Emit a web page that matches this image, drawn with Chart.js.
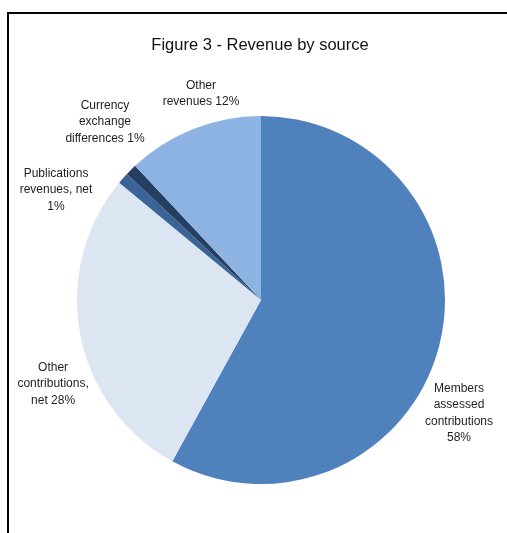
<!DOCTYPE html>
<html>
<head>
<meta charset="utf-8">
<script src="https://cdn.jsdelivr.net/npm/chart.js@4"></script>
<style>
  html, body { margin: 0; padding: 0; background: #fff; }
  #wrap { position: relative; width: 507px; height: 533px; }
  #frame { position: absolute; left: 7px; top: 12px; width: 500px; height: 521px;
           border-top: 2px solid #000; border-left: 2px solid #000; box-sizing: border-box; }
  canvas { position: absolute; left: 0; top: 0; }
</style>
</head>
<body>
<div id="wrap">
  <div id="frame"></div>
  <canvas id="c" width="507" height="533"></canvas>
</div>
<script>
const titleText = "Figure 3 - Revenue by source";
const categories = [
  "Members assessed contributions",
  "Other contributions, net",
  "Publications revenues, net",
  "Currency exchange differences",
  "Other revenues"
];
const values = [58, 28, 1, 1, 12];
const labelLines = [
  ["Members", "assessed", "contributions", "58%"],
  ["Other", "contributions,", "net 28%"],
  ["Publications", "revenues, net", "1%"],
  ["Currency", "exchange", "differences 1%"],
  ["Other", "revenues 12%"]
];
const colors = ["#4F81BD", "#DCE6F2", "#3A6498", "#243F62", "#8DB3E2"];
// label block centres, in units of the pie radius, relative to pie centre
const labelPos = [
  [1.076, 0.614],
  [-1.130, 0.457],
  [-1.114, -0.598],
  [-0.848, -0.967],
  [-0.326, -1.120]
];

const labelPlugin = {
  id: 'outsideLabels',
  afterDatasetsDraw(chart) {
    const ctx = chart.ctx;
    const meta = chart.getDatasetMeta(0);
    ctx.save();
    ctx.fillStyle = '#1e1e1e';
    ctx.font = '12px "Liberation Sans", Arial, sans-serif';
    ctx.textAlign = 'center';
    ctx.textBaseline = 'middle';
    const lh = 16.5;
    meta.data.forEach((arc, i) => {
      const p = arc.getProps(['x', 'y', 'outerRadius'], true);
      const cx = p.x + labelPos[i][0] * p.outerRadius;
      const cy = p.y + labelPos[i][1] * p.outerRadius;
      const lines = labelLines[i];
      const y0 = cy - (lines.length - 1) * lh / 2;
      lines.forEach((t, k) => ctx.fillText(t, cx, y0 + k * lh));
    });
    // title
    ctx.font = '16.5px "Liberation Sans", Arial, sans-serif';
    ctx.fillStyle = '#111';
    ctx.fillText(titleText, 260, 45);
    ctx.restore();
  }
};

new Chart(document.getElementById('c'), {
  type: 'pie',
  data: {
    labels: categories,
    datasets: [{
      data: values,
      backgroundColor: colors,
      borderWidth: 0
    }]
  },
  options: {
    responsive: false,
    animation: false,
    layout: { padding: { left: 77, right: 62, top: 116, bottom: 49 } },
    plugins: {
      legend: { display: false },
      title: { display: false },
      tooltip: { enabled: false }
    }
  },
  plugins: [labelPlugin]
});
</script>
</body>
</html>
